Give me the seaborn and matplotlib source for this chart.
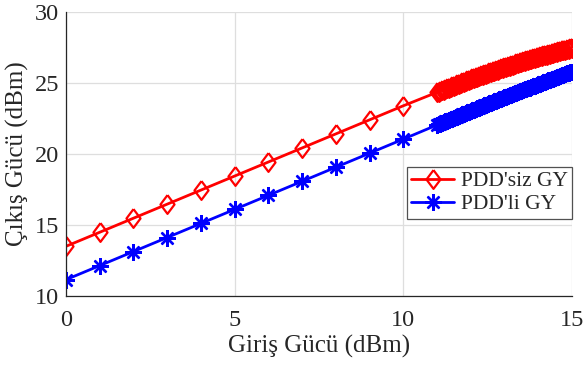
import matplotlib
matplotlib.use("Agg")
import matplotlib.pyplot as plt
import seaborn as sns
import pandas as pd

# Input power (dBm): 1 dB steps up to 10 dBm, then 0.05 dB steps up to 15 dBm
giris = [0, 1, 2, 3, 4, 5, 6, 7, 8, 9, 10,
         11.00, 11.05, 11.10, 11.15, 11.20, 11.25, 11.30, 11.35, 11.40, 11.45,
         11.50, 11.55, 11.60, 11.65, 11.70, 11.75, 11.80, 11.85, 11.90, 11.95,
         12.00, 12.05, 12.10, 12.15, 12.20, 12.25, 12.30, 12.35, 12.40, 12.45,
         12.50, 12.55, 12.60, 12.65, 12.70, 12.75, 12.80, 12.85, 12.90, 12.95,
         13.00, 13.05, 13.10, 13.15, 13.20, 13.25, 13.30, 13.35, 13.40, 13.45,
         13.50, 13.55, 13.60, 13.65, 13.70, 13.75, 13.80, 13.85, 13.90, 13.95,
         14.00, 14.05, 14.10, 14.15, 14.20, 14.25, 14.30, 14.35, 14.40, 14.45,
         14.50, 14.55, 14.60, 14.65, 14.70, 14.75, 14.80, 14.85, 14.90, 14.95,
         15.00]

# Output power without PDD (dBm)
cikis_pddsiz = [13.50, 14.49, 15.48, 16.47, 17.46, 18.45, 19.44, 20.43, 21.42, 22.41, 23.40,
                24.350, 24.399, 24.448, 24.496, 24.544, 24.592, 24.640, 24.687, 24.734, 24.781,
                24.828, 24.874, 24.920, 24.966, 25.012, 25.057, 25.102, 25.147, 25.192, 25.236,
                25.281, 25.325, 25.368, 25.412, 25.455, 25.498, 25.541, 25.583, 25.625, 25.667,
                25.709, 25.750, 25.792, 25.833, 25.873, 25.914, 25.954, 25.994, 26.034, 26.073,
                26.112, 26.151, 26.190, 26.229, 26.267, 26.305, 26.343, 26.380, 26.417, 26.454,
                26.491, 26.528, 26.564, 26.600, 26.636, 26.671, 26.707, 26.742, 26.777, 26.811,
                26.845, 26.879, 26.913, 26.947, 26.980, 27.013, 27.046, 27.079, 27.111, 27.143,
                27.175, 27.206, 27.238, 27.269, 27.300, 27.330, 27.361, 27.391, 27.421, 27.450,
                27.480]

# Output power with PDD (dBm)
cikis_pddli = [11.15, 12.14, 13.13, 14.12, 15.11, 16.10, 17.09, 18.08, 19.07, 20.06, 21.05,
               22.050, 22.100, 22.150, 22.200, 22.249, 22.299, 22.349, 22.398, 22.448, 22.497,
               22.546, 22.595, 22.645, 22.694, 22.743, 22.792, 22.840, 22.889, 22.938, 22.986,
               23.035, 23.083, 23.132, 23.180, 23.228, 23.277, 23.325, 23.373, 23.421, 23.468,
               23.516, 23.564, 23.612, 23.659, 23.707, 23.754, 23.801, 23.849, 23.896, 23.943,
               23.990, 24.037, 24.084, 24.131, 24.177, 24.224, 24.271, 24.317, 24.364, 24.410,
               24.456, 24.502, 24.549, 24.595, 24.641, 24.687, 24.732, 24.778, 24.824, 24.870,
               24.915, 24.960, 25.006, 25.051, 25.096, 25.142, 25.187, 25.232, 25.277, 25.322,
               25.366, 25.411, 25.456, 25.500, 25.545, 25.589, 25.633, 25.678, 25.722, 25.766,
               25.810]

seri_adlari = ["PDD'siz GY", "PDD'li GY"]
x_ticks = [0, 5, 10, 15]
y_ticks = [10, 15, 20, 25, 30]

sns.set_style("white")
plt.rcParams["font.family"] = ["Liberation Serif", "DejaVu Serif"]

df = pd.DataFrame({
    "giris": giris * 2,
    "cikis": cikis_pddsiz + cikis_pddli,
    "seri": [seri_adlari[0]] * len(giris) + [seri_adlari[1]] * len(giris),
})

fig = plt.figure(figsize=(5.83, 3.67), dpi=100)
ax = fig.add_axes([0.1132, 0.1935, 0.8678, 0.7735])

# slightly tall diamond, as in MATLAB's 'd' marker
elmas = [(0, 1), (0.75, 0), (0, -1), (-0.75, 0), (0, 1)]

stiller = {
    seri_adlari[0]: dict(color="#ff0000", marker=elmas, markersize=13.5,
                         markerfacecolor="none", markeredgewidth=1.6),
    seri_adlari[1]: dict(color="#0000ff", marker=(8, 2, 0), markersize=12,
                         markerfacecolor="#0000ff", markeredgewidth=1.7),
}
for ad in seri_adlari:
    alt = df[df["seri"] == ad]
    st = stiller[ad]
    sns.lineplot(data=alt, x="giris", y="cikis", ax=ax, sort=False, estimator=None,
                 color=st["color"], linewidth=2, marker=st["marker"],
                 markersize=st["markersize"], markeredgecolor=st["color"],
                 markerfacecolor=st["markerfacecolor"],
                 markeredgewidth=st["markeredgewidth"], label=ad)

ax.set_xlim(0, 15)
ax.set_ylim(10, 30)
ax.set_xticks(x_ticks)
ax.set_yticks(y_ticks)
ax.grid(True, color="#dedede", linewidth=0.9)
ax.set_axisbelow(True)
for s in ["top", "right"]:
    ax.spines[s].set_visible(False)
for s in ["left", "bottom"]:
    ax.spines[s].set_color("#262626")
    ax.spines[s].set_linewidth(0.9)
ax.tick_params(direction="in", length=4, width=0.8, colors="#262626",
               labelsize=17.5, labelcolor="#262626")
ax.tick_params(axis="x", pad=10)
ax.tick_params(axis="y", pad=5)
ax.set_xlabel("Giriş Gücü (dBm)", fontsize=18, color="#262626", labelpad=3)
ax.set_ylabel("Çıkış Gücü (dBm)", fontsize=18, color="#262626", labelpad=4)

leg = ax.legend(loc="center right", bbox_to_anchor=(1.0, 0.364), fontsize=15.5,
                frameon=True, fancybox=False, edgecolor="#262626",
                borderpad=0.2, handlelength=2.0, handletextpad=0.3,
                labelspacing=0.15, borderaxespad=0)
leg.get_frame().set_linewidth(0.9)

fig.savefig("out.png", dpi=100)
